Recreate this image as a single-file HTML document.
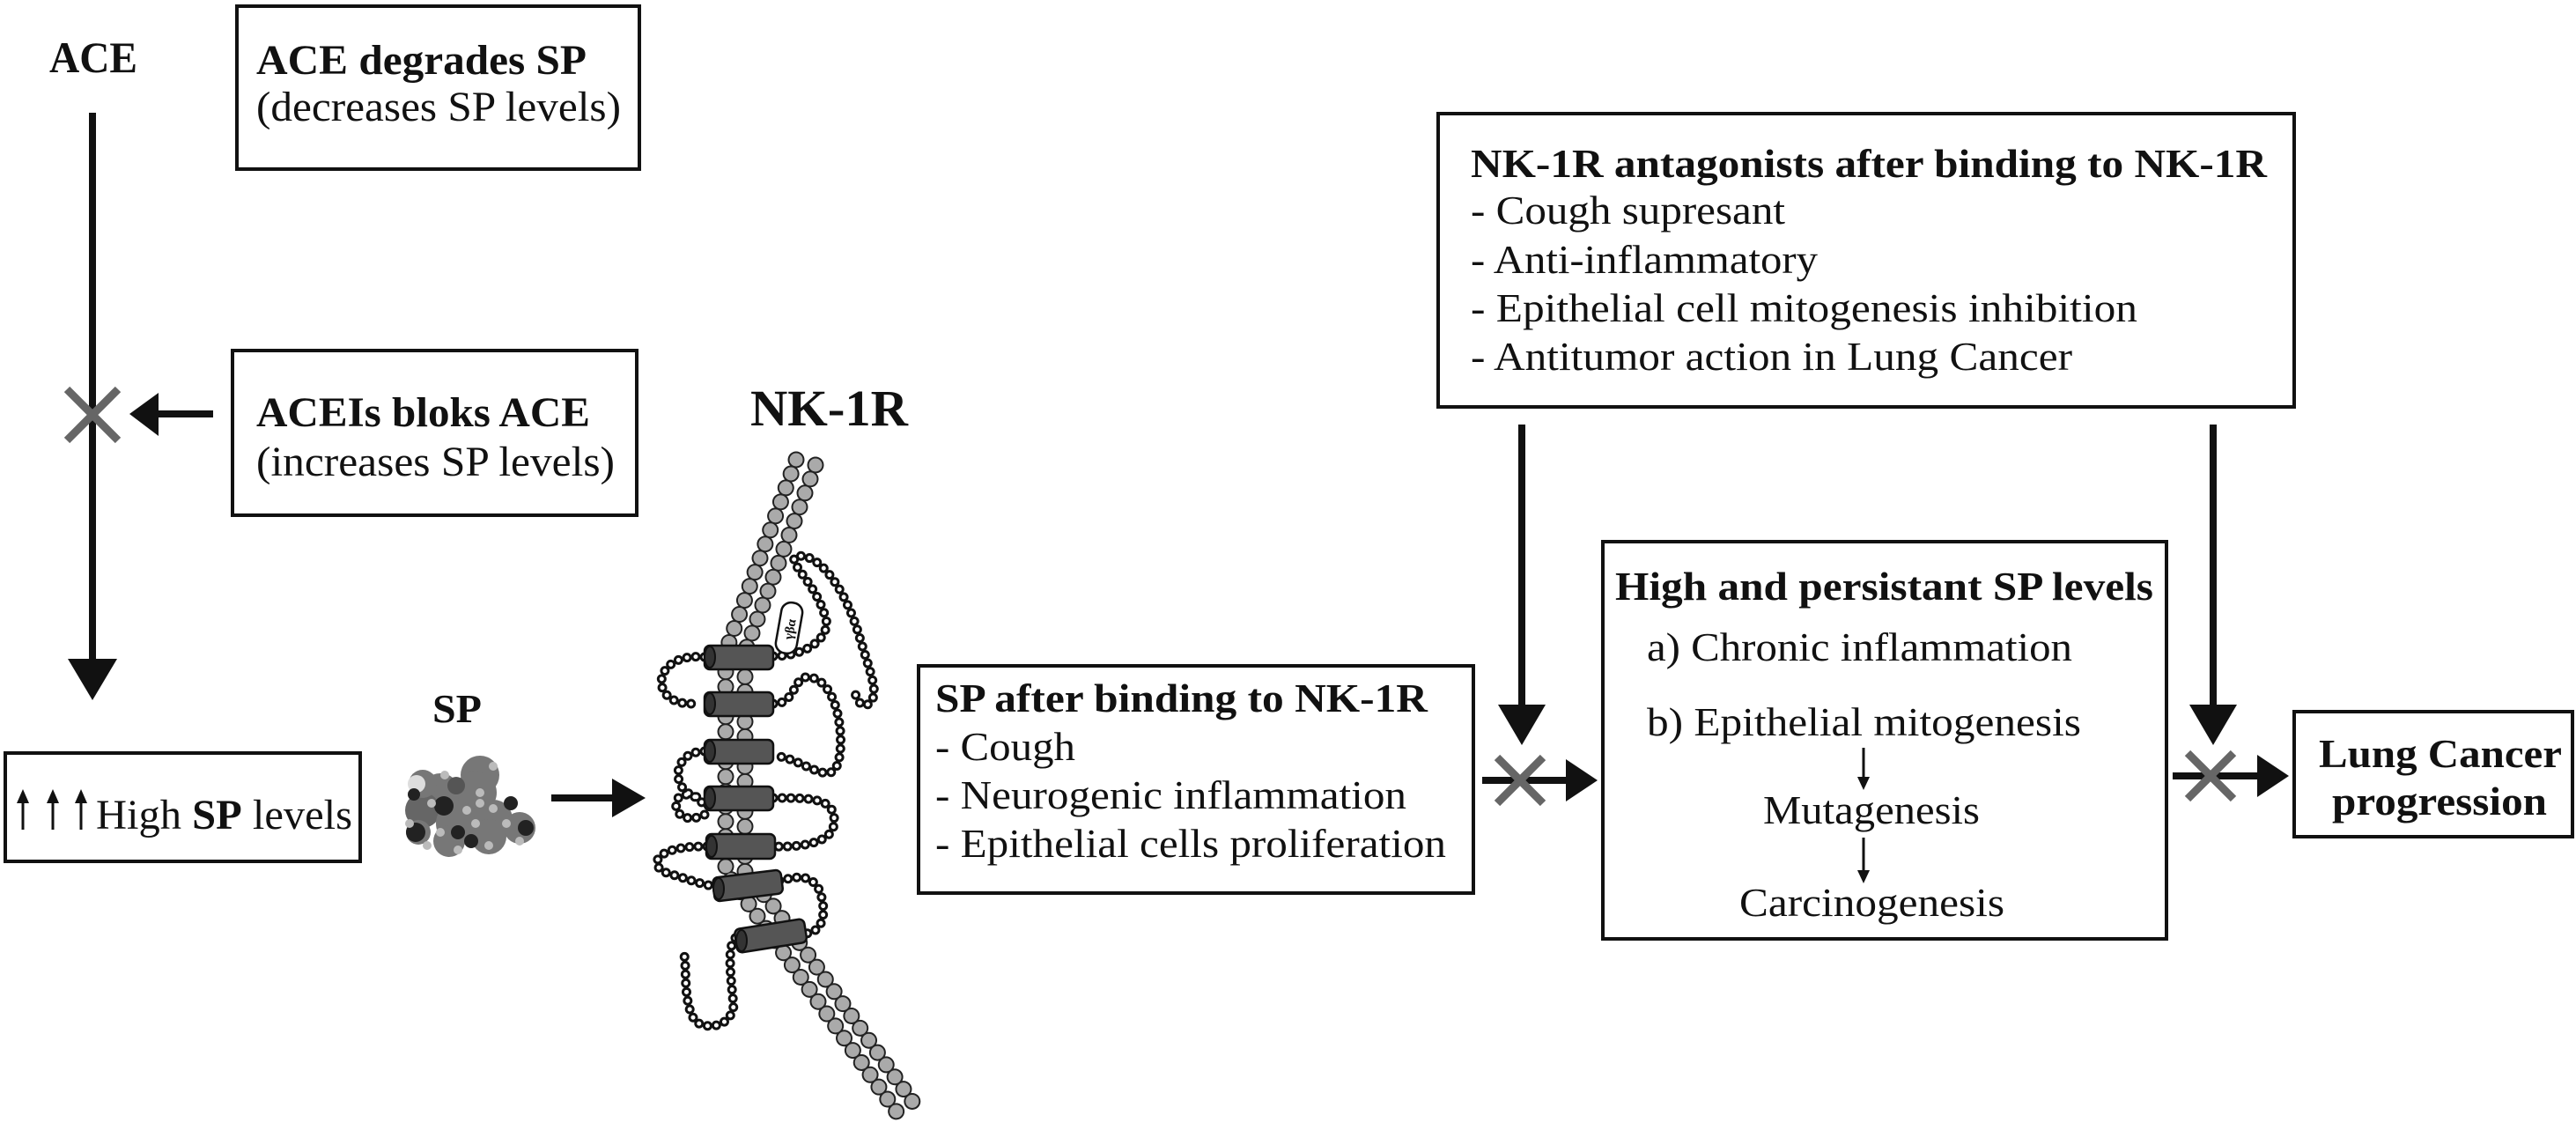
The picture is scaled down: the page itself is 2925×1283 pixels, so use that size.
<!DOCTYPE html>
<html><head><meta charset="utf-8"><style>html,body{margin:0;padding:0;background:#fff}svg{display:block}svg text{font-family:"Liberation Serif","DejaVu Serif","Times New Roman",serif}</style></head>
<body>
<svg width="2925" height="1283" viewBox="0 0 2925 1283" xmlns="http://www.w3.org/2000/svg" fill="#111">
<text x="56" y="82" font-size="50" font-weight="bold" textLength="100" lengthAdjust="spacingAndGlyphs">ACE</text>
<rect x="269" y="7" width="457" height="185" fill="none" stroke="#111" stroke-width="4"/>
<text x="291" y="84" font-size="48" font-weight="bold" textLength="375" lengthAdjust="spacingAndGlyphs">ACE degrades SP</text>
<text x="291" y="137" font-size="48" font-weight="normal" font-family="Liberation Serif, DejaVu Serif, serif" textLength="414" lengthAdjust="spacingAndGlyphs">(decreases SP levels)</text>
<line x1="105" y1="128" x2="105" y2="752" stroke="#111" stroke-width="8"/>
<polygon points="77,748 133,748 105,795" fill="#111"/>
<g stroke="#666" stroke-width="9"><line x1="76" y1="442" x2="134" y2="500"/><line x1="134" y1="442" x2="76" y2="500"/></g>
<line x1="242" y1="470" x2="175" y2="470" stroke="#111" stroke-width="8"/>
<polygon points="147,470 180,446 180,495" fill="#111"/>
<rect x="264" y="398" width="459" height="187" fill="none" stroke="#111" stroke-width="4"/>
<text x="291" y="484" font-size="48" font-weight="bold" textLength="379" lengthAdjust="spacingAndGlyphs">ACEIs bloks ACE</text>
<text x="291" y="540" font-size="48" textLength="407" lengthAdjust="spacingAndGlyphs">(increases SP levels)</text>
<text x="852" y="483" font-size="58" font-weight="bold" textLength="179" lengthAdjust="spacingAndGlyphs">NK-1R</text>
<rect x="6" y="855" width="403" height="123" fill="none" stroke="#111" stroke-width="4"/>
<g stroke="#111" stroke-width="3" fill="#111">
<line x1="26" y1="942" x2="26" y2="908"/><polygon points="19,912 33,912 26,896" stroke="none"/>
<line x1="60" y1="942" x2="60" y2="908"/><polygon points="53,912 67,912 60,896" stroke="none"/>
<line x1="92" y1="942" x2="92" y2="908"/><polygon points="85,912 99,912 92,896" stroke="none"/>
</g>
<text x="109" y="941" font-size="48" textLength="291" lengthAdjust="spacingAndGlyphs">High <tspan font-weight="bold">SP</tspan> levels</text>
<text x="491" y="820" font-size="46" font-weight="bold" textLength="56" lengthAdjust="spacingAndGlyphs">SP</text>
<g>
<circle cx="545" cy="880" r="22" fill="#777"/><circle cx="540" cy="900" r="24" fill="#777"/>
<circle cx="500" cy="900" r="22" fill="#777"/><circle cx="480" cy="920" r="20" fill="#666"/>
<circle cx="520" cy="935" r="25" fill="#777"/><circle cx="560" cy="930" r="22" fill="#777"/>
<circle cx="590" cy="940" r="18" fill="#777"/><circle cx="480" cy="890" r="16" fill="#777"/>
<circle cx="555" cy="950" r="20" fill="#777"/><circle cx="510" cy="955" r="18" fill="#777"/>
<circle cx="475" cy="945" r="14" fill="#777"/>
<circle cx="473" cy="890" r="10" fill="#ddd"/><circle cx="518" cy="892" r="10" fill="#555"/>
<circle cx="504" cy="915" r="11" fill="#222"/><circle cx="472" cy="945" r="11" fill="#222"/>
<circle cx="520" cy="945" r="8" fill="#222"/><circle cx="580" cy="912" r="8" fill="#222"/>
<circle cx="597" cy="940" r="9" fill="#222"/><circle cx="470" cy="902" r="7" fill="#222"/>
<circle cx="535" cy="955" r="8" fill="#222"/>
<g fill="#bbb"><circle cx="490" cy="912" r="5"/><circle cx="530" cy="920" r="5"/><circle cx="545" cy="912" r="5"/><circle cx="560" cy="918" r="5"/><circle cx="575" cy="935" r="5"/><circle cx="500" cy="945" r="5"/><circle cx="540" cy="935" r="5"/><circle cx="485" cy="960" r="5"/><circle cx="555" cy="960" r="5"/><circle cx="520" cy="965" r="5"/><circle cx="560" cy="870" r="5"/><circle cx="545" cy="900" r="5"/><circle cx="465" cy="935" r="5"/><circle cx="590" cy="955" r="5"/><circle cx="505" cy="880" r="5"/></g>
</g>
<line x1="626" y1="906" x2="700" y2="906" stroke="#111" stroke-width="8"/>
<polygon points="733,906 695,884 695,928" fill="#111"/>
<g fill="none" stroke-linecap="round">
<path d="M926,528 L846,740 L846,990 L879,1030 L1044,1262" stroke="#222" stroke-width="19" stroke-dasharray="0 17"/>
<path d="M926,528 L846,740 L846,990 L879,1030 L1044,1262" stroke="#aaa" stroke-width="15" stroke-dasharray="0 17"/>
<path d="M904,522 L824,740 L824,990 L857,1036 L1022,1268" stroke="#222" stroke-width="19" stroke-dasharray="0 17"/>
<path d="M904,522 L824,740 L824,990 L857,1036 L1022,1268" stroke="#aaa" stroke-width="15" stroke-dasharray="0 17"/>
</g>
<defs>
<g id="loops">
<path d="M878,745 C920,745 945,720 937,700 C925,660 895,640 903,632 C930,625 960,670 975,720 C990,770 1000,790 985,800 C975,805 970,785 970,783"/>
<path d="M800,746 C740,740 735,800 786,799"/>
<path d="M878,799 C905,800 900,765 920,769 C955,775 960,850 950,870 C940,892 910,860 878,858"/>
<path d="M800,853 C760,853 760,905 800,906"/>
<path d="M800,925 C780,935 765,925 768,910 C772,898 790,900 800,915"/>
<path d="M878,906 C920,906 950,905 947,935 C945,960 900,962 878,961"/>
<path d="M803,961 C740,960 735,985 760,992 C780,998 800,1005 810,1006"/>
<path d="M885,1000 C905,995 920,992 930,1010 C940,1035 935,1060 913,1060"/>
<path d="M835,1065 C825,1075 830,1110 833,1142 C830,1165 805,1170 790,1160 C775,1140 780,1100 777,1085"/>
</g>
</defs>
<g fill="none" stroke-linecap="round" stroke="#111" stroke-width="11" stroke-dasharray="0 10"><use href="#loops"/></g>
<g fill="none" stroke-linecap="round" stroke="#fff" stroke-width="5" stroke-dasharray="0 10"><use href="#loops"/></g>
<rect x="884" y="684" width="24" height="58" rx="11" fill="#fff" stroke="#111" stroke-width="2.5" transform="rotate(10 896 713)"/>
<text x="883" y="719" font-size="15" font-weight="bold" transform="rotate(-80 896 713)">γβα</text>
<g fill="#555" stroke="#111" stroke-width="2.5">
<rect x="800" y="733" width="78" height="27" rx="6"/>
<rect x="800" y="786" width="78" height="27" rx="6"/>
<rect x="800" y="840" width="78" height="27" rx="6"/>
<rect x="800" y="893" width="78" height="27" rx="6"/>
<rect x="802" y="947" width="78" height="28" rx="6"/>
<rect x="810" y="992" width="78" height="27" rx="6" transform="rotate(-7 849 1005)"/>
<rect x="835" y="1049" width="80" height="27" rx="6" transform="rotate(-9 875 1062)"/>
</g>
<g fill="#333" stroke="#111" stroke-width="2">
<ellipse cx="806" cy="746" rx="6" ry="12"/><ellipse cx="806" cy="799" rx="6" ry="12"/><ellipse cx="806" cy="853" rx="6" ry="12"/><ellipse cx="806" cy="906" rx="6" ry="12"/><ellipse cx="808" cy="961" rx="6" ry="12"/><ellipse cx="816" cy="1009" rx="6" ry="12"/><ellipse cx="842" cy="1068" rx="6" ry="12"/>
</g>
<rect x="1043" y="756" width="630" height="258" fill="none" stroke="#111" stroke-width="4"/>
<text x="1062" y="808" font-size="46" font-weight="bold" textLength="559" lengthAdjust="spacingAndGlyphs">SP after binding to NK-1R</text>
<text x="1062" y="863" font-size="46" textLength="159" lengthAdjust="spacingAndGlyphs">- Cough</text>
<text x="1062" y="918" font-size="46" textLength="535" lengthAdjust="spacingAndGlyphs">- Neurogenic inflammation</text>
<text x="1062" y="973" font-size="46" textLength="580" lengthAdjust="spacingAndGlyphs">- Epithelial cells proliferation</text>
<rect x="1633" y="129" width="972" height="333" fill="none" stroke="#111" stroke-width="4"/>
<text x="1670" y="201" font-size="46" font-weight="bold" textLength="904" lengthAdjust="spacingAndGlyphs">NK-1R antagonists after binding to NK-1R</text>
<text x="1670" y="254" font-size="46" textLength="357" lengthAdjust="spacingAndGlyphs">- Cough supresant</text>
<text x="1670" y="310" font-size="46" textLength="394" lengthAdjust="spacingAndGlyphs">- Anti-inflammatory</text>
<text x="1670" y="365" font-size="46" textLength="757" lengthAdjust="spacingAndGlyphs">- Epithelial cell mitogenesis inhibition</text>
<text x="1670" y="420" font-size="46" textLength="683" lengthAdjust="spacingAndGlyphs">- Antitumor action in Lung Cancer</text>
<line x1="1728" y1="482" x2="1728" y2="805" stroke="#111" stroke-width="8"/>
<polygon points="1701,800 1755,800 1728,846" fill="#111"/>
<line x1="2513" y1="482" x2="2513" y2="805" stroke="#111" stroke-width="8"/>
<polygon points="2486,800 2540,800 2513,846" fill="#111"/>
<line x1="1683" y1="886" x2="1785" y2="886" stroke="#111" stroke-width="8"/>
<polygon points="1814,886 1778,862 1778,910" fill="#111"/>
<g stroke="#666" stroke-width="9"><line x1="1700" y1="860" x2="1752" y2="912"/><line x1="1752" y1="860" x2="1700" y2="912"/></g>
<line x1="2467" y1="881" x2="2570" y2="881" stroke="#111" stroke-width="8"/>
<polygon points="2599,881 2563,857 2563,905" fill="#111"/>
<g stroke="#666" stroke-width="9"><line x1="2484" y1="855" x2="2536" y2="907"/><line x1="2536" y1="855" x2="2484" y2="907"/></g>
<rect x="1820" y="615" width="640" height="451" fill="none" stroke="#111" stroke-width="4"/>
<text x="1834" y="681" font-size="46" font-weight="bold" textLength="611" lengthAdjust="spacingAndGlyphs">High and persistant SP levels</text>
<text x="1870" y="750" font-size="46" textLength="483" lengthAdjust="spacingAndGlyphs">a) Chronic inflammation</text>
<text x="1870" y="835" font-size="46" textLength="493" lengthAdjust="spacingAndGlyphs">b) Epithelial mitogenesis</text>
<line x1="2116" y1="849" x2="2116" y2="885" stroke="#111" stroke-width="3"/><polygon points="2109,882 2123,882 2116,897" fill="#111"/>
<text x="2002" y="935" font-size="46" textLength="246" lengthAdjust="spacingAndGlyphs">Mutagenesis</text>
<line x1="2116" y1="951" x2="2116" y2="990" stroke="#111" stroke-width="3"/><polygon points="2109,988 2123,988 2116,1003" fill="#111"/>
<text x="1975" y="1040" font-size="46" textLength="301" lengthAdjust="spacingAndGlyphs">Carcinogenesis</text>
<rect x="2605" y="808" width="316" height="142" fill="none" stroke="#111" stroke-width="4"/>
<text x="2633" y="871" font-size="46" font-weight="bold" textLength="276" lengthAdjust="spacingAndGlyphs">Lung Cancer</text>
<text x="2648" y="925" font-size="46" font-weight="bold" textLength="244" lengthAdjust="spacingAndGlyphs">progression</text>
</svg>
</body></html>
